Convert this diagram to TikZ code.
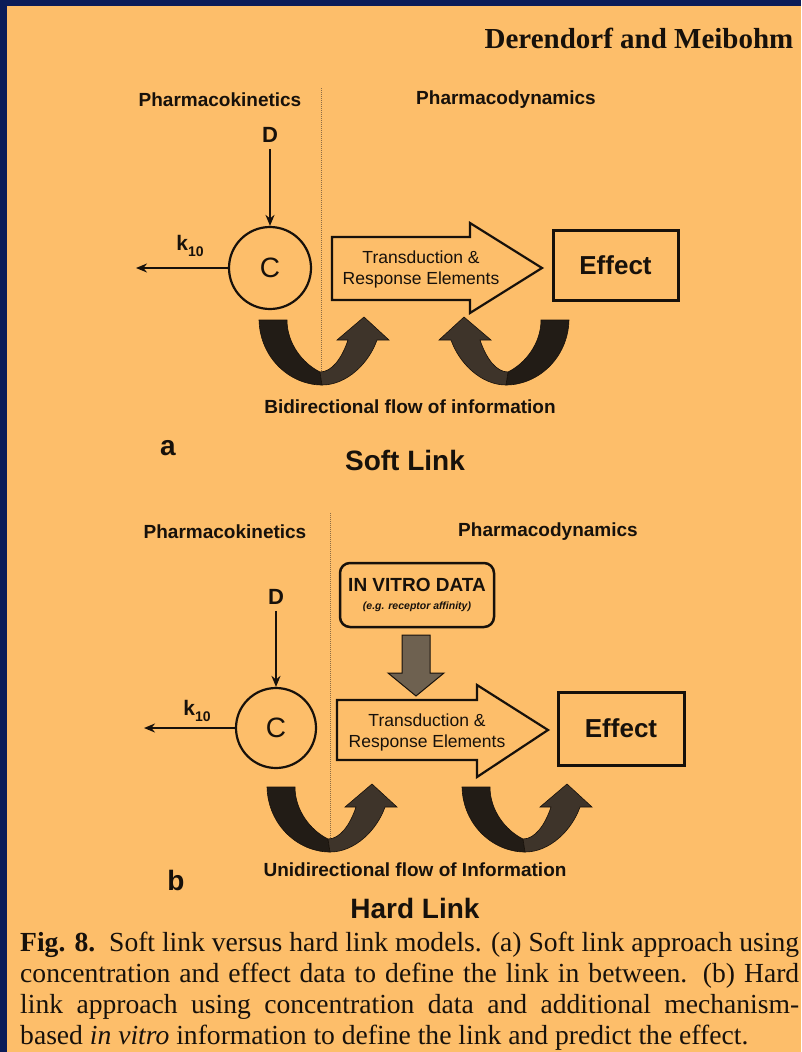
\documentclass[tikz,border=0pt]{standalone}
\usepackage{fontspec}
\setmainfont{Liberation Serif}
\newfontfamily\arial{Liberation Sans}
\usetikzlibrary{arrows.meta}
\definecolor{navy}{HTML}{0B1C58}
\definecolor{paper}{HTML}{FDBE6A}
\definecolor{ink}{HTML}{17110B}
\definecolor{udark}{HTML}{221C16}
\definecolor{ulight}{HTML}{3E342A}
\definecolor{ugray}{HTML}{6E6150}
\definecolor{divcol}{HTML}{8C6C44}
\tikzset{
  hd/.style={font=\arial\bfseries\fontsize{19}{22}\selectfont, text=ink, inner sep=0pt},
  author/.style={font=\bfseries\fontsize{29}{32}\selectfont, text=ink, inner sep=0pt},
  comp/.style={circle, draw=ink, line width=2.2pt, fill=paper, minimum size=82pt, inner sep=0pt,
    font=\arial\fontsize{28}{30}\selectfont, text=ink},
  dose/.style={font=\arial\bfseries\fontsize{22}{24}\selectfont, text=ink, inner sep=0pt},
  klab/.style={font=\arial\bfseries\fontsize{21}{24}\selectfont, text=ink, inner sep=0pt},
  trans/.style={font=\arial\fontsize{17.5}{21}\selectfont, text=ink, align=center, inner sep=0pt},
  effbox/.style={draw=ink, line width=3pt, fill=paper, minimum width=125pt, minimum height=70pt,
    font=\arial\bfseries\fontsize{26}{28}\selectfont, text=ink, inner sep=0pt},
  vitro/.style={draw=ink, line width=2.5pt, rounded corners=10pt, minimum width=154pt, minimum height=64pt,
    align=center, font=\arial\bfseries\fontsize{19}{20}\selectfont, text=ink, inner sep=0pt},
  ttl/.style={font=\arial\bfseries\fontsize{28}{30}\selectfont, text=ink, inner sep=0pt},
  panelletter/.style={font=\arial\bfseries\fontsize{28}{30}\selectfont, text=ink, inner sep=0pt},
  divider/.style={divcol, line width=1pt, densely dotted},
  flow/.style={ink, line width=2pt, -{Stealth[length=11pt,width=9pt]}},
  block/.style={draw=ink, fill=paper, line width=2.2pt, line join=miter},
  grayarrow/.style={draw=ink, fill=ugray, line width=1pt, line join=miter},
  caption/.style={font=\fontsize{27.6}{31}\selectfont, text=ink, text width=779pt, align=justify, inner sep=0pt},
  uarrow/.pic={
    \fill[udark, draw=ink, line width=0.6pt] (-63,-63) .. controls (-62,-25) and (-32,2) .. (0,2)
      -- (-2,-11) .. controls (-20,-20) and (-35,-40) .. (-35,-63) -- cycle;
    \fill[ulight, draw=ink, line width=0.6pt] (0,2) .. controls (25,2) and (47,-20) .. (55,-43)
      -- (67,-43) -- (42,-66) -- (15,-43) -- (26,-43) .. controls (20,-25) and (10,-11) .. (-2,-11) -- cycle;
  }
}
\begin{document}
\begin{tikzpicture}[x=1pt,y=-1pt]
\useasboundingbox (0,0) rectangle (801,1052);
\fill[navy] (0,0) rectangle (801,1052);
\fill[paper] (7,6) rectangle (801,1052);
\begin{scope}
\clip (7,6) rectangle (801,1052);
\node[author] (auth) at (639,38) {Derendorf and Meibohm};

% ---------- panel a ----------
\node[hd] (pka) at (220,100) {Pharmacokinetics};
\node[hd] (pda) at (506,100) {Pharmacodynamics};
\coordinate (diva1) at (321,88);
\coordinate (diva2) at (321,375);
\draw[divider] (diva1) -- (diva2);
\node[comp] (Ca) at (270,268) {C};
\node[dose] (Da) at (270,135) {D};
\draw[flow] (Da.south) ++(0,6) -- (Ca.north);
\coordinate (ka) at (136,268);
\draw[flow] (Ca.west) -- (ka);
\node[klab] (kla) at (190,246) {k\raisebox{-0.3em}{\fontsize{14}{14}\selectfont 10}};
\draw[block] (332,237) -- (470,237) -- (470,223) -- (542,268) -- (470,313) -- (470,300) -- (332,300) -- cycle;
\node[trans] (Ta) at (421,269.5) {Transduction \&\\Response Elements};
\node[effbox] (Ea) at (615.5,265) {Effect};
\pic at (322,383) {uarrow};
\pic[xscale=-1] at (506,383) {uarrow};
\node[hd] (bia) at (410,407) {Bidirectional flow of information};
\node[panelletter] (la) at (168,448) {a};
\node[ttl] (sla) at (405,460) {Soft Link};

% ---------- panel b ----------
\node[hd] (pkb) at (225,532) {Pharmacokinetics};
\node[hd] (pdb) at (548,532) {Pharmacodynamics};
\coordinate (divb1) at (330,513);
\coordinate (divb2) at (330,840);
\draw[divider] (divb1) -- (divb2);
\node[vitro] (Vb) at (417,595) {IN VITRO DATA\\[-2pt]{\fontsize{10.5}{12}\selectfont\bfseries\itshape (e.g. receptor affinity)}};
\draw[grayarrow] (402,635) -- (430,635) -- (430,673) -- (444,673) -- (416,696) -- (388,673) -- (402,673) -- cycle;
\node[comp, minimum size=80pt] (Cb) at (276,728) {C};
\node[dose] (Db) at (276,597) {D};
\draw[flow] (Db.south) ++(0,6) -- (Cb.north);
\coordinate (kb) at (144,728);
\draw[flow] (Cb.west) -- (kb);
\node[klab] (klb) at (197,711) {k\raisebox{-0.3em}{\fontsize{14}{14}\selectfont 10}};
\draw[block] (337,700) -- (477,700) -- (477,685) -- (548,730) -- (477,777) -- (477,760) -- (337,760) -- cycle;
\node[trans] (Tb) at (427,732) {Transduction \&\\Response Elements};
\node[effbox, minimum width=126pt, minimum height=73pt] (Eb) at (621,728.5) {Effect};
\pic at (330,850) {uarrow};
\pic at (525,850) {uarrow};
\node[hd] (unb) at (415,870) {Unidirectional flow of Information};
\node[panelletter] (lb) at (176,880) {b};
\node[ttl] (hlb) at (415,908) {Hard Link};

% ---------- caption ----------
\node[caption, anchor=north west] (cap) at (20,932) {\tolerance=10000\hyphenpenalty=10000\emergencystretch=50pt
\textbf{Fig. 8.}\enskip Soft link versus hard link models. (a) Soft link approach using\linebreak
concentration and effect data to define the link in between. (b) Hard\linebreak
link approach using concentration data and additional mechanism-\linebreak
based \textit{in vitro} information to define the link and predict the effect.};
\end{scope}
\end{tikzpicture}
\end{document}
